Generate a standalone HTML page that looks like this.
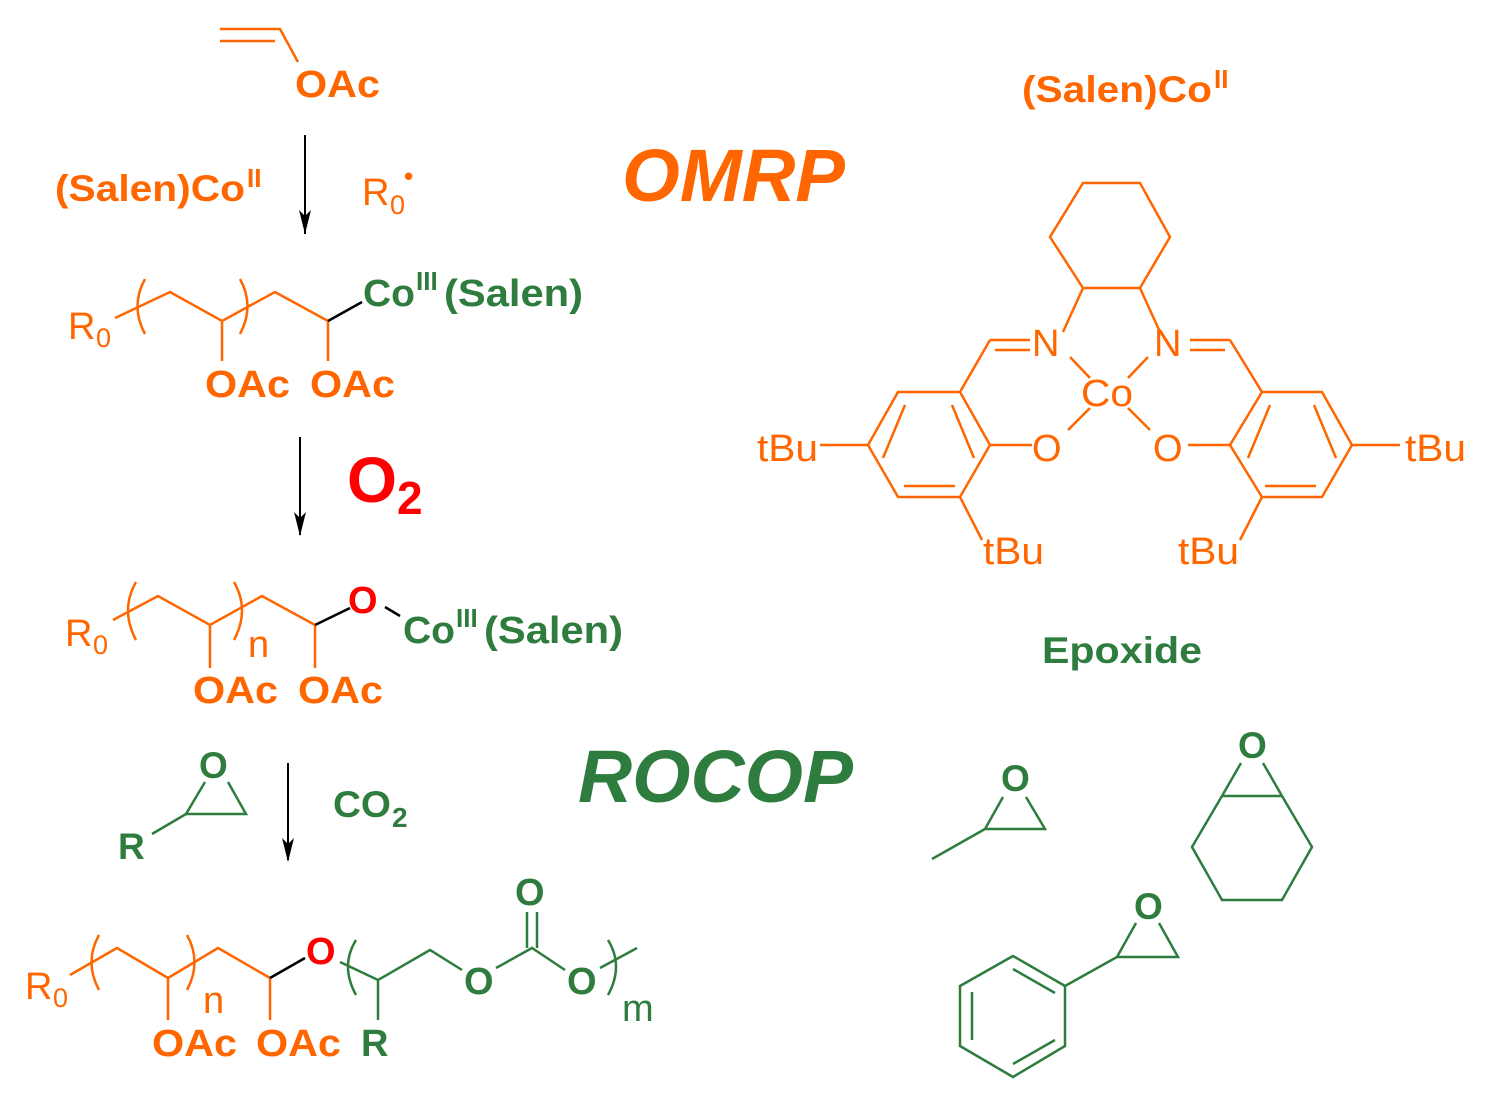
<!DOCTYPE html>
<html><head><meta charset="utf-8"><style>
html,body{margin:0;padding:0;background:#fff}
svg{display:block}
text{font-family:"Liberation Sans",Arial,sans-serif}
.o{fill:#FF6600}.g{fill:#2E7D3E}.r{fill:#FF0000}
.b{font-weight:bold}
</style></head><body>
<svg width="1489" height="1097" viewBox="0 0 1489 1097" xmlns="http://www.w3.org/2000/svg">

<!-- vinyl acetate -->
<g stroke="#FF6600" stroke-width="2.5" fill="none">
<path d="M220,29 L280,29 L298,62"/><path d="M220,41 L275,41"/>
</g>
<text x="295" y="97" class="o b" font-size="38" textLength="85" lengthAdjust="spacingAndGlyphs">OAc</text>
<line x1="305" y1="135" x2="305" y2="234" stroke="#000" stroke-width="2"/>
<path d="M299,210 L305,234 L311,210 L305,216Z" fill="#000"/>
<text x="55" y="201" class="o b" font-size="37" textLength="190" lengthAdjust="spacingAndGlyphs">(Salen)Co</text>
<text x="247" y="187" class="o b" font-size="26">II</text>
<text x="362" y="205" class="o" font-size="38">R</text>
<text x="390" y="214" class="o" font-size="27">0</text>
<text x="404" y="185" class="o b" font-size="26">•</text>

<text x="622" y="201" class="o b" font-size="74" font-style="italic" textLength="223" lengthAdjust="spacingAndGlyphs">OMRP</text>
<text x="1022" y="102" class="o b" font-size="37" textLength="190" lengthAdjust="spacingAndGlyphs">(Salen)Co</text>
<text x="1214" y="88" class="o b" font-size="26">II</text>

<!-- structure 2 -->
<g stroke="#FF6600" stroke-width="2.5" fill="none">
<path d="M115,318 L170,292 L222,321 L275,292 L328,321"/>
<path d="M222,321 L222,361 M328,321 L328,361"/>
<path d="M145,279 Q130,306 145,334"/><path d="M240,279 Q255,306 240,334"/>
</g>
<line x1="328" y1="321" x2="362" y2="302" stroke="#000" stroke-width="2.5"/>
<text x="68" y="339" class="o" font-size="38">R</text>
<text x="96" y="347" class="o" font-size="27">0</text>
<text x="363" y="306" class="g b" font-size="38" textLength="52" lengthAdjust="spacingAndGlyphs">Co</text>
<text x="416" y="290" class="g b" font-size="26">III</text>
<text x="444" y="306" class="g b" font-size="38" textLength="139" lengthAdjust="spacingAndGlyphs">(Salen)</text>
<text x="205" y="397" class="o b" font-size="38" textLength="85" lengthAdjust="spacingAndGlyphs">OAc</text>
<text x="310" y="397" class="o b" font-size="38" textLength="85" lengthAdjust="spacingAndGlyphs">OAc</text>

<line x1="300" y1="437" x2="300" y2="535" stroke="#000" stroke-width="2"/>
<path d="M294,512 L300,536 L306,512 L300,518Z" fill="#000"/>
<text x="347" y="502" class="r b" font-size="64" textLength="50" lengthAdjust="spacingAndGlyphs">O</text>
<text x="397" y="514" class="r b" font-size="46">2</text>

<!-- structure 3 -->
<g stroke="#FF6600" stroke-width="2.5" fill="none">
<path d="M113,620 L158,596 L210,625 L262,596 L315,625"/>
<path d="M210,625 L210,668 M315,625 L315,668"/>
<path d="M136,582 Q120,610 136,640"/><path d="M234,582 Q250,610 234,640"/>
</g>
<line x1="315" y1="625" x2="350" y2="608" stroke="#000" stroke-width="2.5"/>
<line x1="385" y1="607" x2="400" y2="616" stroke="#000" stroke-width="2.5"/>
<text x="65" y="646" class="o" font-size="38">R</text>
<text x="93" y="654" class="o" font-size="27">0</text>
<text x="248" y="657" class="o" font-size="38">n</text>
<text x="348" y="613" class="r b" font-size="38">O</text>
<text x="403" y="643" class="g b" font-size="38" textLength="52" lengthAdjust="spacingAndGlyphs">Co</text>
<text x="456" y="627" class="g b" font-size="26">III</text>
<text x="484" y="643" class="g b" font-size="38" textLength="139" lengthAdjust="spacingAndGlyphs">(Salen)</text>
<text x="193" y="703" class="o b" font-size="38" textLength="85" lengthAdjust="spacingAndGlyphs">OAc</text>
<text x="298" y="703" class="o b" font-size="38" textLength="85" lengthAdjust="spacingAndGlyphs">OAc</text>

<!-- arrow 3 -->
<g stroke="#2E7D3E" stroke-width="2.5" fill="none">
<path d="M205,782 L186,814 L246,814 L228,782"/><path d="M186,814 L152,834"/>
</g>
<text x="199" y="778" class="g b" font-size="37">O</text>
<text x="118" y="859" class="g b" font-size="37">R</text>
<line x1="288" y1="763" x2="288" y2="860" stroke="#000" stroke-width="2"/>
<path d="M282,838 L288,862 L294,838 L288,844Z" fill="#000"/>
<text x="333" y="817" class="g b" font-size="37" textLength="58" lengthAdjust="spacingAndGlyphs">CO</text>
<text x="392" y="827" class="g b" font-size="28">2</text>

<text x="578" y="802" class="g b" font-size="74" font-style="italic" textLength="275" lengthAdjust="spacingAndGlyphs">ROCOP</text>

<!-- structure 4 -->
<g stroke="#FF6600" stroke-width="2.5" fill="none">
<path d="M70,975 L117,948 L168,978 L218,948 L270,978"/>
<path d="M168,978 L168,1020 M270,978 L270,1020"/>
<path d="M99,935 Q84,962 99,990"/><path d="M187,935 Q202,962 187,990"/>
</g>
<line x1="270" y1="978" x2="305" y2="958" stroke="#000" stroke-width="2.5"/>
<text x="25" y="999" class="o" font-size="38">R</text>
<text x="53" y="1007" class="o" font-size="27">0</text>
<text x="203" y="1013" class="o" font-size="38">n</text>
<text x="306" y="964" class="r b" font-size="38">O</text>
<g stroke="#2E7D3E" stroke-width="2.5" fill="none">
<path d="M340,962 L378,980 L430,950 L462,970"/>
<path d="M378,980 L378,1020"/>
<path d="M496,968 L532,948 L565,970"/>
<path d="M527,948 L527,912 M537,948 L537,912"/>
<path d="M600,968 L637,948"/>
<path d="M356,940 Q340,966 356,995"/><path d="M608,940 Q624,966 608,995"/>
</g>
<text x="464" y="994" class="g b" font-size="38">O</text>
<text x="567" y="994" class="g b" font-size="38">O</text>
<text x="515" y="905" class="g b" font-size="38">O</text>
<text x="622" y="1021" class="g" font-size="38">m</text>
<text x="152" y="1056" class="o b" font-size="38" textLength="85" lengthAdjust="spacingAndGlyphs">OAc</text>
<text x="256" y="1056" class="o b" font-size="38" textLength="85" lengthAdjust="spacingAndGlyphs">OAc</text>
<text x="361" y="1056" class="g b" font-size="38">R</text>

<!-- salen complex -->
<g stroke="#FF6600" stroke-width="2.5" fill="none">
<path d="M1083,183 L1140,183 L1170,237 L1140,288 L1083,288 L1050,237 Z"/>
<path d="M1083,288 L1063,332 M1140,288 L1160,332"/>
<path d="M990,340 L1030,340 M995,350 L1030,350"/>
<path d="M1230,340 L1190,340 M1225,350 L1190,350"/>
<path d="M1070,357 L1090,378 M1148,357 L1128,378"/>
<path d="M1090,408 L1068,430 M1128,408 L1150,430"/>
<path d="M960,392 L990,340"/>
<path d="M960,392 L898,392 L868,445 L898,497 L960,497 L990,445 Z"/>
<path d="M905,405 L883,458 M952,405 L974,458 M904,486 L955,486"/>
<path d="M990,445 L1032,445 M868,445 L820,445 M960,497 L982,540"/>
<path d="M1262,392 L1230,340"/>
<path d="M1262,392 L1322,392 L1352,445 L1322,497 L1262,497 L1230,445 Z"/>
<path d="M1314,405 L1336,458 M1270,405 L1248,458 M1265,486 L1316,486"/>
<path d="M1230,445 L1188,445 M1352,445 L1400,445 M1262,497 L1240,540"/>
</g>
<g class="o" font-size="38">
<text x="1032" y="356">N</text>
<text x="1154" y="356">N</text>
<text x="1081" y="406" textLength="52" lengthAdjust="spacingAndGlyphs">Co</text>
<text x="1032" y="461">O</text>
<text x="1153" y="461">O</text>
<text x="757" y="461" textLength="61" lengthAdjust="spacingAndGlyphs">tBu</text>
<text x="1405" y="461" textLength="61" lengthAdjust="spacingAndGlyphs">tBu</text>
<text x="983" y="564" textLength="61" lengthAdjust="spacingAndGlyphs">tBu</text>
<text x="1178" y="564" textLength="61" lengthAdjust="spacingAndGlyphs">tBu</text>
</g>

<text x="1042" y="663" class="g b" font-size="37" textLength="160" lengthAdjust="spacingAndGlyphs">Epoxide</text>
<g stroke="#2E7D3E" stroke-width="2.5" fill="none">
<path d="M1003,797 L985,829 L1045,829 L1026,797 M985,829 L932,859"/>
<path d="M1241,763 L1222,796 L1282,796 L1263,763"/>
<path d="M1282,796 L1312,847 L1282,900 L1222,900 L1192,847 L1222,796"/>
<path d="M1136,923 L1117,957 L1178,957 L1159,923 M1117,957 L1065,986"/>
<path d="M1065,986 L1013,956 L960,986 L960,1046 L1013,1077 L1065,1046 Z"/>
<path d="M1013,969 L1055,993 M972,992 L972,1040 M1013,1064 L1055,1040"/>
</g>
<text x="1001" y="791" class="g b" font-size="37">O</text>
<text x="1238" y="758" class="g b" font-size="37">O</text>
<text x="1134" y="919" class="g b" font-size="37">O</text>
</svg>
</body></html>
